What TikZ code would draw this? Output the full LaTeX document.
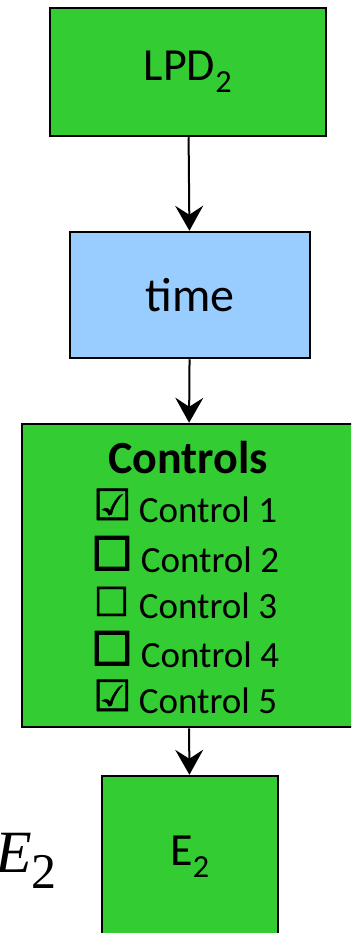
\documentclass[tikz,border=0pt]{standalone}
\usepackage{fontspec}
\setmainfont{Carlito}
\newfontfamily\symfont[FakeBold=1.2]{DejaVu Sans}
\newfontfamily\symboldfont[FakeBold=4]{DejaVu Sans}
\newfontfamily\serfont{Liberation Serif}
\usetikzlibrary{arrows.meta}
\definecolor{boxgreen}{HTML}{33CC33}
\definecolor{boxblue}{HTML}{99CCFF}
\newcommand{\chk}{\makebox[27pt][c]{\raisebox{2pt}{\symfont\fontsize{43}{44}\selectfont ☑}}\hspace{13pt}}
\newcommand{\boxthin}{\makebox[25pt][c]{\raisebox{2pt}{\symfont\fontsize{40}{44}\selectfont ☐}}\hspace{15pt}}
\newcommand{\boxthick}{\makebox[30pt][c]{\raisebox{2pt}{\symboldfont\fontsize{46}{44}\selectfont ☐}}\hspace{14pt}}
\begin{document}
\begin{tikzpicture}[x=1pt,y=-1pt,
  box/.style={draw=black, line width=2.5pt, rectangle, inner sep=0pt, font=\fontsize{46}{54}\selectfont},
  link/.style={line width=2pt, -{Stealth[length=25pt,width=28pt,inset=9pt]}},
  ctl/.style={anchor=base, inner sep=0pt, font=\fontsize{37}{44}\selectfont}]
\useasboundingbox (0,0) rectangle (351,933);
\clip (0,0) rectangle (351,933);
\node[box, fill=boxgreen, minimum width=276pt, minimum height=128pt] (lpd) at (188,72) {LPD\textsubscript{2}};
\node[box, fill=boxblue, minimum width=240pt, minimum height=126pt, font=\fontsize{48}{56}\selectfont] (time) at (190,295) {time};
\node[box, fill=boxgreen, minimum width=332pt, minimum height=303pt] (ctrl) at (188,575.5) {};
\node[box, fill=boxgreen, minimum width=176pt, minimum height=162pt] (e2) at (190,857) {E\textsubscript{2}};
\node[anchor=base, inner sep=0pt, font=\fontsize{46}{54}\selectfont\bfseries] (title) at (188,473) {Controls};
\node[ctl] (c1) at (188,522) {\chk Control 1};
\node[ctl] (c2) at (188,572) {\boxthick Control 2};
\node[ctl] (c3) at (188,618) {\boxthin Control 3};
\node[ctl] (c4) at (188,667) {\boxthick Control 4};
\node[ctl] (c5) at (188,713) {\chk Control 5};
\node[anchor=base west, inner sep=0pt] (elabel) at (-5,872) {\serfont\fontsize{60}{70}\selectfont\itshape E\raisebox{-16pt}{\upshape\fontsize{50}{60}\selectfont 2}};
\draw[link] (lpd) -- (time);
\draw[link] (time) -- (ctrl);
\draw[link] (ctrl) -- (e2);
\end{tikzpicture}
\end{document}
